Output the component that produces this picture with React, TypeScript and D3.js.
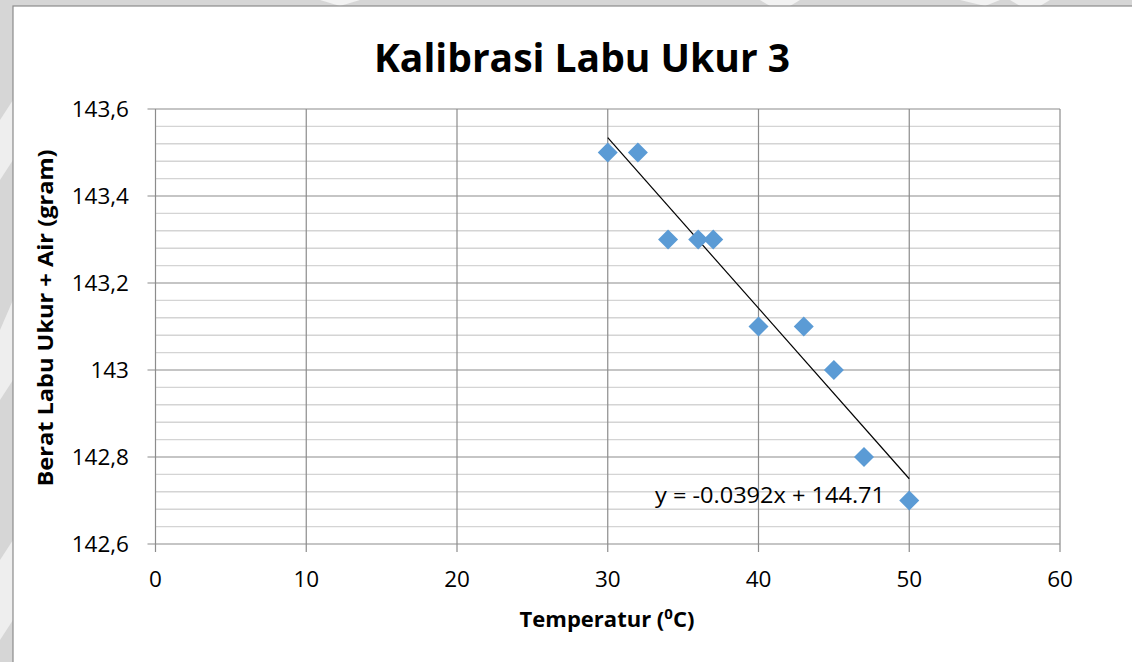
import React from "react";
import * as d3 from "d3";

const temperatures = [30, 32, 34, 36, 37, 40, 43, 45, 47, 50];
const weights = [143.5, 143.5, 143.3, 143.3, 143.3, 143.1, 143.1, 143.0, 142.8, 142.7];
const xTicks = [0, 10, 20, 30, 40, 50, 60];
const yTicks = [142.6, 142.8, 143.0, 143.2, 143.4, 143.6];
const trendSlope = -0.0392;
const trendIntercept = 144.71;
const trendRange = [30, 50];
const title = "Kalibrasi Labu Ukur 3";
const xTitle = "Temperatur (";
const yTitle = "Berat Labu Ukur + Air (gram)";
const equation = "y = -0.0392x + 144.71";

const W = 1132;
const H = 662;
const FONT = "'Open Sans', 'DejaVu Sans', sans-serif";

export default function App() {
  const x = d3.scaleLinear().domain([0, 60]).range([155.5, 1060]);
  const y = d3.scaleLinear().domain([142.6, 143.6]).range([544, 109]);

  const minorTicks: number[] = [];
  for (let i = 0; i < yTicks.length - 1; i++) {
    const a = yTicks[i];
    const b = yTicks[i + 1];
    for (let k = 1; k < 5; k++) minorTicks.push(a + ((b - a) * k) / 5);
  }

  const fmt = (v: number) => {
    const s = d3.format(".1f")(v);
    return s.endsWith(".0") ? s.slice(0, -2) : s.replace(".", ",");
  };

  const diamond = d3.symbol().type(d3.symbolSquare).size(200)();
  const trend = d3
    .line<number>()
    .x((t) => x(t))
    .y((t) => y(trendSlope * t + trendIntercept))(trendRange);

  return (
    <svg
      width={W}
      height={H}
      style={{ position: "fixed", left: 0, top: 0, display: "block" }}
      fontFamily={FONT}
    >
      <rect x={0} y={0} width={W} height={H} fill="#d6d6d6" />
      <polygon points="320,0 360,0 340,6" fill="#f2f2f2" />
      <polygon points="760,0 800,0 790,6 770,6" fill="#f2f2f2" />
      <polygon points="960,0 1000,0 985,6" fill="#f2f2f2" />
      <polygon points="1010,0 1050,0 1040,6 1020,6" fill="#f2f2f2" />
      <polygon points="0,120 13,100 13,160 0,180" fill="#eeeeee" />
      <polygon points="0,330 13,300 13,380 0,400" fill="#eeeeee" />
      <polygon points="0,560 13,540 13,620 0,640" fill="#eeeeee" />
      <rect x={13} y={6} width={W} height={H} fill="#ffffff" stroke="#8c8c8c" strokeWidth={1.2} />

      {/* minor gridlines */}
      {minorTicks.map((t, i) => (
        <line key={"m" + i} x1={x(0)} x2={x(60)} y1={y(t)} y2={y(t)} stroke="#d4d4d4" strokeWidth={1.4} />
      ))}
      {/* major horizontal gridlines */}
      {yTicks.map((t) => (
        <line key={"h" + t} x1={x(0) - 8} x2={x(60)} y1={y(t)} y2={y(t)} stroke="#8c8c8c" strokeWidth={1.2} />
      ))}
      {/* vertical gridlines */}
      {xTicks.map((t) => (
        <line key={"v" + t} x1={x(t)} x2={x(t)} y1={y(143.6)} y2={y(142.6) + 8} stroke="#8c8c8c" strokeWidth={1.2} />
      ))}

      {/* y tick labels */}
      {yTicks.map((t) => (
        <text key={"yl" + t} x={129} y={y(t)} dy="0.36em" textAnchor="end" fontSize={22.5} fill="#000">
          {fmt(t)}
        </text>
      ))}
      {/* x tick labels */}
      {xTicks.map((t) => (
        <text key={"xl" + t} x={x(t)} y={587} textAnchor="middle" fontSize={22.5} fill="#000">
          {t}
        </text>
      ))}

      {/* trendline */}
      <path d={trend || ""} stroke="#000" strokeWidth={1.2} fill="none" />

      {/* points */}
      {temperatures.map((t, i) => (
        <path
          key={"p" + i}
          d={diamond || ""}
          transform={`translate(${x(t)},${y(weights[i])}) rotate(45)`}
          fill="#5b9bd5"
        />
      ))}

      {/* equation */}
      <text x={655} y={503} fontSize={22} fill="#000" textLength={230} lengthAdjust="spacingAndGlyphs">
        {equation}
      </text>

      {/* title */}
      <text x={582} y={72} textAnchor="middle" fontSize={39} fontWeight="bold" fill="#000">
        {title}
      </text>

      {/* x axis title */}
      <text x={607} y={627} textAnchor="middle" fontSize={22} fontWeight="bold" fill="#000">
        {xTitle}
        <tspan dy={-8} fontSize={15}>0</tspan>
        <tspan dy={8}>C)</tspan>
      </text>

      {/* y axis title */}
      <text
        transform={`translate(53,318) rotate(-90)`}
        textAnchor="middle"
        fontSize={22}
        fontWeight="bold"
        fill="#000"
        textLength={337}
        lengthAdjust="spacingAndGlyphs"
      >
        {yTitle}
      </text>
    </svg>
  );
}
